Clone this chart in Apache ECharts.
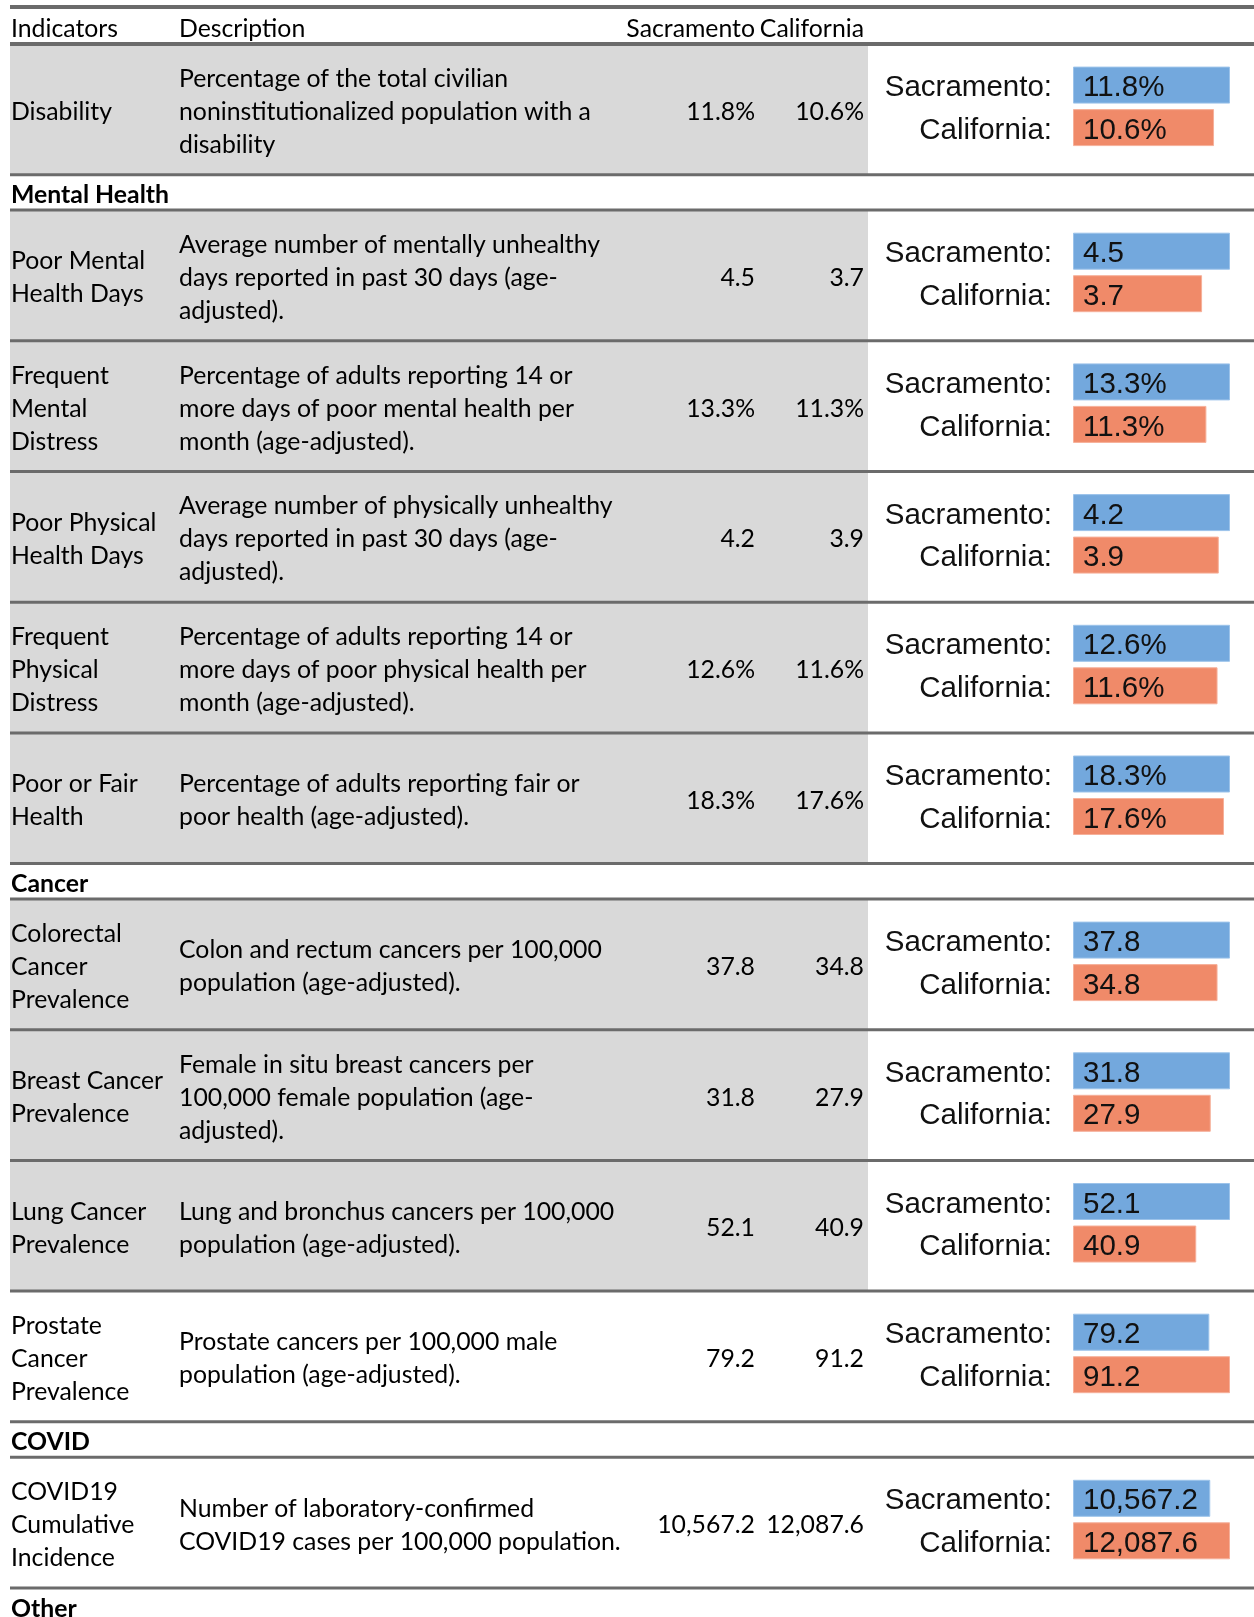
<!DOCTYPE html>
<html>
<head>
<meta charset="utf-8">
<script src="https://cdn.jsdelivr.net/npm/echarts@6/dist/echarts.min.js"></script>
<style>
html, body { margin: 0; padding: 0; background: #fff; }
#main { width: 1254px; height: 1617px; }
</style>
</head>
<body>
<div id="main"></div>
<script>
// table data
const headers = ['Indicators', 'Description', 'Sacramento', 'California'];
const sections = ['', 'Mental Health', 'Cancer', 'COVID', 'Other'];
const rowSection = [0, 1, 1, 1, 1, 1, 2, 2, 2, 2, 3];
const indicators = [
    'Disability',
    'Poor Mental\nHealth Days',
    'Frequent\nMental\nDistress',
    'Poor Physical\nHealth Days',
    'Frequent\nPhysical\nDistress',
    'Poor or Fair\nHealth',
    'Colorectal\nCancer\nPrevalence',
    'Breast Cancer\nPrevalence',
    'Lung Cancer\nPrevalence',
    'Prostate\nCancer\nPrevalence',
    'COVID19\nCumulative\nIncidence'
];
const descriptions = [
    'Percentage of the total civilian\nnoninstitutionalized population with a\ndisability',
    'Average number of mentally unhealthy\ndays reported in past 30 days (age-\nadjusted).',
    'Percentage of adults reporting 14 or\nmore days of poor mental health per\nmonth (age-adjusted).',
    'Average number of physically unhealthy\ndays reported in past 30 days (age-\nadjusted).',
    'Percentage of adults reporting 14 or\nmore days of poor physical health per\nmonth (age-adjusted).',
    'Percentage of adults reporting fair or\npoor health (age-adjusted).',
    'Colon and rectum cancers per 100,000\npopulation (age-adjusted).',
    'Female in situ breast cancers per\n100,000 female population (age-\nadjusted).',
    'Lung and bronchus cancers per 100,000\npopulation (age-adjusted).',
    'Prostate cancers per 100,000 male\npopulation (age-adjusted).',
    'Number of laboratory-confirmed\nCOVID19 cases per 100,000 population.'
];
const sacramento = [11.8, 4.5, 13.3, 4.2, 12.6, 18.3, 37.8, 31.8, 52.1, 79.2, 10567.2];
const california = [10.6, 3.7, 11.3, 3.9, 11.6, 17.6, 34.8, 27.9, 40.9, 91.2, 12087.6];
const units = ['%', '', '%', '', '%', '%', '', '', '', '', ''];
const places = ['Sacramento:', 'California:'];

(function () {
    const W = 1254, X0 = 10, GRAY_R = 868;
    const ROW_H = 130.7, SEC_H = 35.4, HEAD_BOTTOM = 44;
    const TABLE_FONT = 'Lato', BAR_FONT = 'Liberation Sans';
    const TEXT_DY = 2.5; // small baseline nudge for table text
    const unshaded = [9, 10]; // Prostate / COVID rows have white background

    const fmt = (v, u) => v.toLocaleString('en-US', {minimumFractionDigits: 1, maximumFractionDigits: 1}) + u;

    let graphic = [], grids = [], xAxes = [], yAxes = [], series = [];

    // horizontal rule
    const hline = function (y, h) {
        h = h || 3;
        graphic.push({type: 'rect', z: 10, shape: {x: X0, y: y - h / 2, width: W - X0, height: h}, style: {fill: '#6b6b6b'}});
    };
    // table text
    const text = function (t, x, y, opts) {
        graphic.push({
            type: 'text', z: 5, x: x, y: y + TEXT_DY,
            style: Object.assign({
                text: t, fill: '#000', fontSize: 24.8, fontFamily: TABLE_FONT,
                verticalAlign: 'middle', lineHeight: 33
            }, opts || {})
        });
    };

    // header
    hline(7, 4);
    text(headers[0], 11, 27);
    text(headers[1], 179, 27);
    text(headers[2], 755, 27, {align: 'right'});
    text(headers[3], 864, 27, {align: 'right'});
    hline(HEAD_BOTTOM, 4);

    let y = HEAD_BOTTOM, cur = 0;
    indicators.forEach(function (name, i) {
        if (rowSection[i] !== cur) {
            cur = rowSection[i];
            text(sections[cur], 11, y + SEC_H / 2, {fontWeight: 'bold'});
            y += SEC_H;
            hline(y);
        }
        const cy = y + ROW_H / 2;
        if (unshaded.indexOf(i) < 0) {
            graphic.push({type: 'rect', z: 0, shape: {x: X0, y: y, width: GRAY_R - X0, height: ROW_H}, style: {fill: '#d9d9d9'}});
        }
        text(name, 11, cy);
        text(descriptions[i], 179, cy);
        text(fmt(sacramento[i], units[i]), 755, cy, {align: 'right'});
        text(fmt(california[i], units[i]), 864, cy, {align: 'right'});

        // mini bar chart for this row
        const gi = grids.length;
        grids.push({left: 1073, top: cy - 3 - 42.5, width: 157, height: 85});
        xAxes.push({gridIndex: gi, type: 'value', min: 0, max: Math.max(sacramento[i], california[i]), show: false});
        yAxes.push({
            gridIndex: gi, type: 'category', inverse: true, data: places,
            axisLine: {show: false}, axisTick: {show: false}, splitLine: {show: false},
            // top-aligned with a tiny line box puts the glyphs ~3px below the band centre
            axisLabel: {margin: 21, fontSize: 29.5, fontFamily: BAR_FONT, color: '#111', verticalAlign: 'top', lineHeight: 6}
        });
        series.push({
            type: 'bar', xAxisIndex: gi, yAxisIndex: gi, barWidth: 37, silent: true,
            data: [
                {value: sacramento[i], itemStyle: {color: '#73a8dd', borderColor: '#9cc3ea', borderWidth: 1}},
                {value: california[i], itemStyle: {color: '#f08a69', borderColor: '#f6b09a', borderWidth: 1}}
            ],
            label: {
                show: true, position: 'insideLeft', distance: 10, offset: [0, 3],
                formatter: function (p) { return fmt(p.value, units[i]); },
                fontSize: 29.5, fontFamily: BAR_FONT, color: '#111'
            }
        });

        y += ROW_H;
        hline(y);
    });
    // trailing section header
    text(sections[4], 11, y + SEC_H / 2 + 1, {fontWeight: 'bold'});

    let myCharts = echarts.init(document.getElementById('main'));
    myCharts.setOption({
        animation: false,
        backgroundColor: '#fff',
        grid: grids,
        xAxis: xAxes,
        yAxis: yAxes,
        series: series,
        graphic: graphic
    });
})();
</script>
</body>
</html>
